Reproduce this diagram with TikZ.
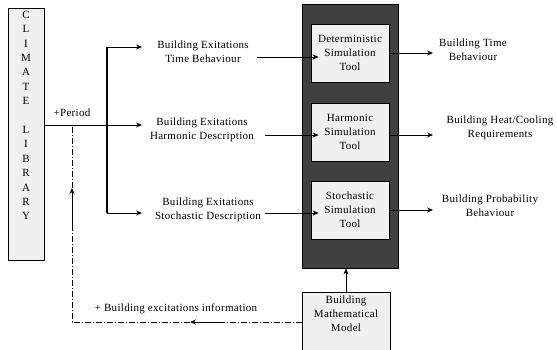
\documentclass[tikz,border=0pt]{standalone}
\usepackage{fontspec}
\setmainfont{Liberation Serif}[LetterSpace=3]
\usepackage{tikz}
\usetikzlibrary{positioning,arrows.meta}

\definecolor{boxgray}{HTML}{F0F0F0}
\definecolor{toolgray}{HTML}{404040}

\tikzset{
  box/.style={draw, fill=boxgray, line width=0.8pt},
  txt/.style={align=center, font=\fontsize{11}{14}\selectfont, inner sep=1pt},
  infoline/.style={line width=0.7pt, dash pattern=on 6pt off 2pt on 1pt off 2pt}
}

\begin{document}
\begin{tikzpicture}[>={Stealth[length=6pt,width=5pt]}, x=1pt, y=-1pt, line width=0.8pt]
\useasboundingbox (0,0) rectangle (557,349);

% climate library (left)
\node[box, minimum width=36pt, minimum height=252pt] (climate) at (26,134) {};
\node[txt, below=2pt of climate.north, font=\fontsize{11}{14.4}\selectfont] (letters)
  {C\\L\\I\\M\\A\\T\\E\\[14.4pt]L\\I\\B\\R\\A\\R\\Y};

% simulation tools (middle)
\node[draw, fill=toolgray, minimum width=96pt, minimum height=264pt] (engine) at (350,136) {};
\node[box, txt, minimum width=78pt, minimum height=58pt] (det) at (350,53) {Deterministic\\Simulation\\Tool};
\node[box, txt, minimum width=78pt, minimum height=58pt] (harm) at (350,132) {Harmonic\\Simulation\\Tool};
\node[box, txt, minimum width=78pt, minimum height=58pt] (stoch) at (350,210) {Stochastic\\Simulation\\Tool};

% building model (bottom)
\node[box, minimum width=88pt, minimum height=70pt, anchor=north] (model) at (346,292) {};
\node[txt, below=2pt of model.north] (modeltxt) {Building\\Mathematical\\Model};

% excitation labels
\node[txt] (exTime) at (203,52) {Building Exitations\\Time Behaviour};
\node[txt] (exHarm) at (202,130) {Building Exitations\\Harmonic Description};
\node[txt] (exStoch) at (208,210) {Building Exitations\\Stochastic Description};
\node[txt] (period) at (72,113) {+Period};
\node[txt] (info) at (176,309) {+ Building excitations information};

% output labels (right)
\node[txt] (outTime) at (473,50) {Building Time\\Behaviour};
\node[txt] (outHeat) at (500,128) {Building Heat/Cooling\\Requirements};
\node[txt] (outProb) at (490,206) {Building Probability\\Behaviour};

\coordinate (split) at (107,125);
\coordinate (tap) at (72,125);
\coordinate (tipL) at (142,0);
\coordinate (tipR) at (433,0);
\coordinate (infoA) at (190,322);
\coordinate (infoA2) at (225,322);
\coordinate (infoB) at (72,188);
\coordinate (infoB2) at (72,225);

% climate to excitations
\draw[->] (split -| climate.east) -- (split -| tipL);
\draw[->] (split) |- ([yshift=5pt]exTime.west -| tipL);
\draw[->] (split) |- ([yshift=-3pt]exStoch.west -| tipL);
\draw[line width=1.6pt] ([yshift=5pt]exTime.west -| split) -- ([yshift=-3pt]exStoch.west -| split);

% excitations to tools
\draw[->, shorten >=-8pt] ([xshift=7pt,yshift=-5pt]exTime.east) -- ([yshift=-5pt]exTime.east -| det.west);
\draw[->, shorten >=-8pt] ([xshift=10pt,yshift=-5pt]exHarm.east) -- ([yshift=-5pt]exHarm.east -| harm.west);
\draw[->, shorten >=-8pt] ([xshift=3pt,yshift=-3pt]exStoch.east) -- ([yshift=-3pt]exStoch.east -| stoch.west);

% tools to outputs
\draw[->] (det.east) -- (det.east -| tipR);
\draw[->] ([yshift=-3pt]harm.east) -- ([yshift=-3pt]harm.east -| tipR);
\draw[->] (stoch.east) -- (stoch.east -| tipR);

% model feedback
\draw[->] (model.north) -- (model.north |- engine.south);
\draw[infoline] ([yshift=-30pt]model.north west) -- (infoA2);
\draw[->] (infoA2) -- (infoA);
\draw[infoline] (infoA) -| (infoB2);
\draw[->] (infoB2) -- (infoB);
\draw[infoline] (infoB) -- (tap);
\end{tikzpicture}
\end{document}
